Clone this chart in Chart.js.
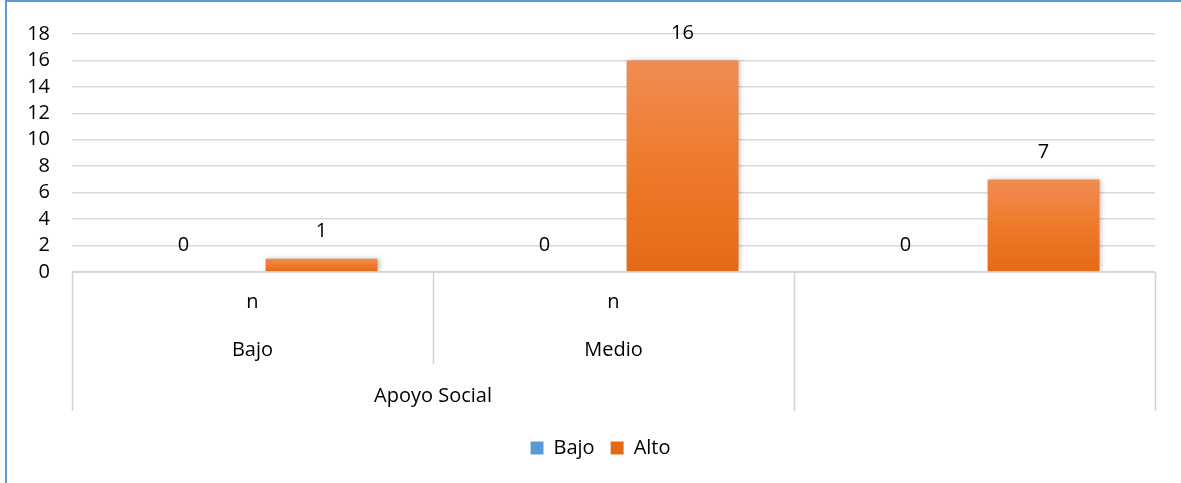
<!DOCTYPE html>
<html>
<head>
<meta charset="utf-8">
<script src="https://cdn.jsdelivr.net/npm/chart.js@4/dist/chart.umd.min.js"></script>
<style>
  html, body { margin: 0; padding: 0; background: #fff; }
  .frame {
    position: absolute; left: 5px; top: 0;
    width: 1300px; height: 600px;
    border-left: 2px solid #5b9bd5; border-top: 2px solid #5b9bd5;
  }
  #wrap { position: absolute; left: 0; top: 0; width: 1181px; height: 483px; }
</style>
</head>
<body>
<div class="frame"></div>
<div id="wrap"><canvas id="myChart"></canvas></div>
<script>
// categorias (tres grupos de barras) y sus etiquetas por nivel
const categories = ['c1', 'c2', 'c3'];
const levelOne = ['n', 'n', ''];
const levelTwo = ['Bajo', 'Medio', ''];
const groupLabel = 'Apoyo Social';
const groupSpan = [0, 1];

const seriesNames = ['Bajo', 'Alto'];
const bajoValues = [0, 0, 0];
const altoValues = [1, 16, 7];

const yTicks = [0, 2, 4, 6, 8, 10, 12, 14, 16, 18];

const FONT = '"Open Sans", sans-serif';
const SIZE = 20;
Chart.defaults.font.family = FONT;
Chart.defaults.font.size = SIZE;
Chart.defaults.color = '#000';

// degradado naranja de arriba a abajo de cada barra
function orangeFill(context) {
  const chart = context.chart;
  const y = chart.scales.y;
  if (!y || context.raw === undefined) return '#ed7d31';
  const top = y.getPixelForValue(context.raw);
  const bottom = y.getPixelForValue(0);
  if (!isFinite(top) || top === bottom) return '#ed7d31';
  const g = chart.ctx.createLinearGradient(0, top, 0, bottom);
  g.addColorStop(0, '#f08d52');
  g.addColorStop(0.5, '#ee7a2a');
  g.addColorStop(1, '#e46a17');
  return g;
}

/* SOMBRA SUAVE DE LAS BARRAS */
const barShadow = {
  id: 'barShadow',
  beforeDatasetDraw(chart) {
    const ctx = chart.ctx;
    ctx.save();
    ctx.shadowColor = 'rgba(0,0,0,0.28)';
    ctx.shadowBlur = 5;
    ctx.shadowOffsetX = 2;
    ctx.shadowOffsetY = 0;
  },
  afterDatasetDraw(chart) {
    chart.ctx.restore();
  }
};

/* LEYENDA CENTRADA SOBRE TODO EL LIENZO */
const legendShift = {
  id: 'legendShift',
  afterLayout(chart) {
    const lg = chart.legend;
    if (!lg) return;
    const d = (chart.width - lg.right - lg.left) / 2 + 10;
    lg.left += d;
    lg.right += d;
    lg.top -= 6;
    lg.bottom -= 6;
  }
};

/* VALORES ENCIMA DE LAS BARRAS */
const valueLabels = {
  id: 'valueLabels',
  afterDatasetsDraw(chart) {
    const ctx = chart.ctx;
    ctx.save();
    ctx.font = SIZE + 'px ' + FONT;
    ctx.fillStyle = '#000';
    ctx.textAlign = 'center';
    ctx.textBaseline = 'middle';
    chart.data.datasets.forEach(function (ds, i) {
      chart.getDatasetMeta(i).data.forEach(function (bar, j) {
        ctx.fillText(String(ds.data[j]), bar.x, bar.y - 27);
      });
    });
    ctx.restore();
  }
};

/* EJE DE CATEGORIAS EN VARIOS NIVELES */
const multiLevelAxis = {
  id: 'multiLevelAxis',
  afterDraw(chart) {
    const ctx = chart.ctx;
    const area = chart.chartArea;
    const x = chart.scales.x;
    const base = area.bottom;
    const n = categories.length;
    const half = (x.getPixelForValue(1) - x.getPixelForValue(0)) / 2;
    const edge = function (i) { return x.getPixelForValue(i) - half; };

    ctx.save();
    ctx.strokeStyle = '#d4d4d4';
    ctx.lineWidth = 1.5;
    ctx.beginPath();
    ctx.moveTo(area.left, base);
    ctx.lineTo(area.right, base);
    for (let i = 0; i <= n; i++) {
      const px = Math.round(edge(i)) + 0.5;
      const inside = i > groupSpan[0] && i <= groupSpan[1];
      ctx.moveTo(px, base);
      ctx.lineTo(px, base + (inside ? 92 : 139));
    }
    ctx.stroke();

    ctx.font = SIZE + 'px ' + FONT;
    ctx.fillStyle = '#000';
    ctx.textAlign = 'center';
    ctx.textBaseline = 'middle';
    categories.forEach(function (c, i) {
      const cx = x.getPixelForValue(i);
      ctx.fillText(levelOne[i], cx, base + 30);
      ctx.fillText(levelTwo[i], cx, base + 78);
    });
    const gx = (edge(groupSpan[0]) + edge(groupSpan[1] + 1)) / 2;
    ctx.fillText(groupLabel, gx, base + 124);
    ctx.restore();
  }
};

var ctx = document.getElementById('myChart').getContext('2d');
var myChart = new Chart(ctx, {
  type: 'bar',
  data: {
    labels: categories,
    datasets: [{
      label: seriesNames[0],
      data: bajoValues,
      backgroundColor: '#5b9bd5',
      categoryPercentage: 0.765,
      barPercentage: 0.81
    }, {
      label: seriesNames[1],
      data: altoValues,
      backgroundColor: orangeFill,
      categoryPercentage: 0.765,
      barPercentage: 0.81
    }]
  },
  options: {
    responsive: true,
    maintainAspectRatio: false,
    animation: false,
    layout: { padding: { top: 31, right: 26, left: 0, bottom: 9 } },
    scales: {
      x: {
        grid: { display: false },
        border: { display: false },
        ticks: { display: false },
        afterFit: function (scale) { scale.height = 156; }
      },
      y: {
        min: 0,
        max: 18,
        afterBuildTicks: function (scale) {
          scale.ticks = yTicks.map(function (v) { return { value: v }; });
        },
        afterFit: function (scale) { scale.width = 72; },
        grid: { color: '#d9d9d9', lineWidth: 1.5, drawTicks: false },
        border: { display: false },
        ticks: { padding: 22, color: '#000', autoSkip: false }
      }
    },
    plugins: {
      legend: {
        position: 'bottom',
        labels: {
          boxWidth: 13,
          boxHeight: 13,
          padding: 16,
          color: '#000',
          font: { size: SIZE }
        }
      },
      tooltip: { enabled: false }
    }
  },
  plugins: [legendShift, barShadow, valueLabels, multiLevelAxis]
});
</script>
</body>
</html>
